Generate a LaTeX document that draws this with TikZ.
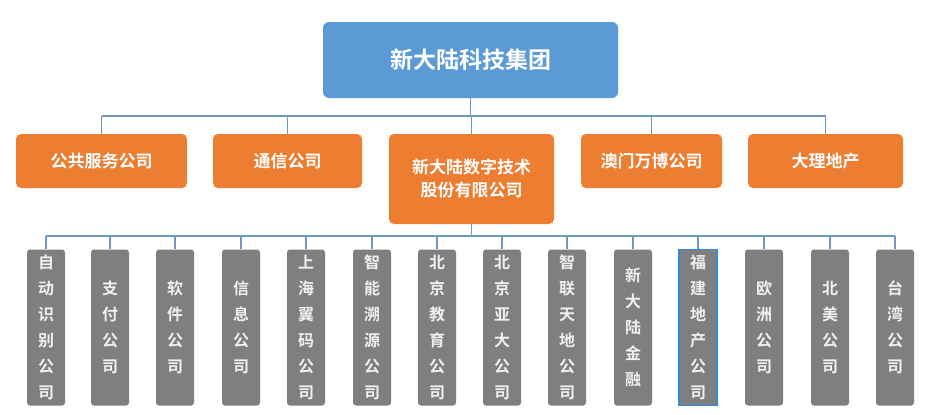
\documentclass[tikz,border=0pt]{standalone}
\usepackage{fontspec}
\newfontfamily\cjk{Noto Sans CJK SC Bold}
\begin{document}
\begin{tikzpicture}[x=1pt,y=-1pt,
  top/.style={draw=none,fill=topblue,rounded corners=6pt,font=\cjk\fontsize{23}{26}\selectfont,text=white},
  mid/.style={draw=none,fill=midorange,rounded corners=5pt,font=\cjk\fontsize{17}{23}\selectfont,text=white,align=center,inner sep=0pt},
  sub/.style={draw=none,fill=subgray,rounded corners=3pt,font=\cjk\fontsize{16}{26}\selectfont,text=subtext,align=center,inner sep=0pt},
  link/.style={draw=linkblue,line width=1.1pt}]
\definecolor{topblue}{HTML}{5B9BD5}
\definecolor{midorange}{HTML}{ED7D31}
\definecolor{subgray}{HTML}{7F7F7F}
\definecolor{subtext}{HTML}{F0F0F0}
\definecolor{linkblue}{HTML}{6F97C4}
\definecolor{selblue}{HTML}{2E8BE0}
\useasboundingbox[fill=white] (0,0) rectangle (930,415);
\node[top,minimum width=295pt,minimum height=76pt] (root) at (470.5,60) {新大陆科技集团};
\node[mid,minimum width=171pt,minimum height=54pt] (m1) at (101.5,161) {公共服务公司};
\node[mid,minimum width=149pt,minimum height=54pt] (m2) at (287.5,161) {通信公司};
\node[mid,minimum width=165pt,minimum height=90pt] (m3) at (471.5,179) {新大陆数字技术\\股份有限公司};
\node[mid,minimum width=141pt,minimum height=54pt] (m4) at (651.5,161) {澳门万博公司};
\node[mid,minimum width=155pt,minimum height=54pt] (m5) at (825.5,161) {大理地产};
\coordinate (h1) at (0,116);
\draw[link] (root.south) -- (root.south |- h1);
\draw[link] (m1.north |- h1) -- (m5.north |- h1);
\foreach \m in {m1,m2,m3,m4,m5} \draw[link] (\m.north |- h1) -- (\m.north);
\coordinate (h2) at (0,236);
\draw[link] (m3.south) -- (m3.south |- h2);
\foreach [count=\i] \x/\t in {46/自\\动\\识\\别\\公\\司, 110/支\\付\\公\\司, 175/软\\件\\公\\司, 241/信\\息\\公\\司, 306/上\\海\\翼\\码\\公\\司, 372/智\\能\\溯\\源\\公\\司, 437/北\\京\\教\\育\\公\\司, 502/北\\京\\亚\\大\\公\\司, 567/智\\联\\天\\地\\公\\司, 633/新\\大\\陆\\金\\融, 698/福\\建\\地\\产\\公\\司, 764/欧\\洲\\公\\司, 830/北\\美\\公\\司, 895/台\\湾\\公\\司}{
  \node[sub,minimum width=38pt,minimum height=156pt] (s\i) at (\x,327.5) {\t};
}
\draw[selblue,line width=1.5pt] (s11.south west) rectangle (s11.north east);
\draw[link] (s1.north |- h2) -- (s14.north |- h2);
\foreach \i in {1,...,14} \draw[link] (s\i.north |- h2) -- (s\i.north);
\end{tikzpicture}
\end{document}
